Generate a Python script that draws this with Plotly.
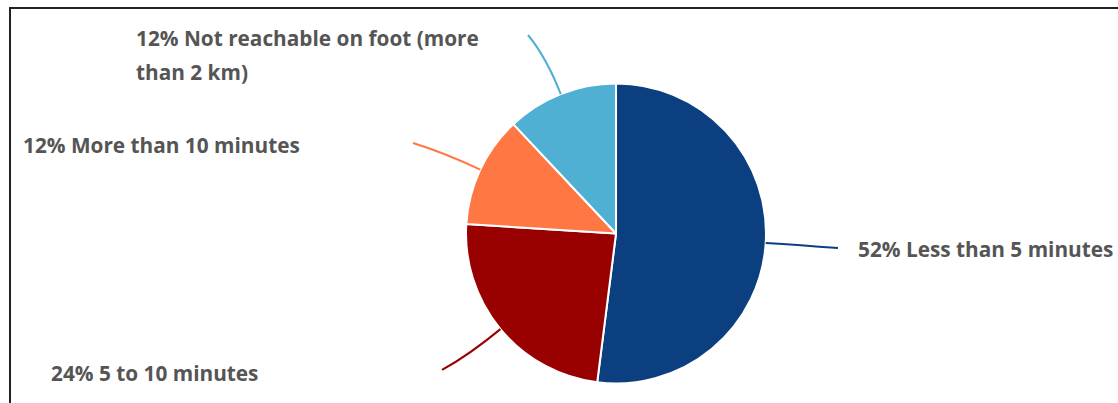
import math
import plotly.graph_objects as go

# Share of respondents by walking time to the nearest stop
categories = ["Less than 5 minutes", "5 to 10 minutes", "More than 10 minutes",
              "Not reachable on foot (more than 2 km)"]
shares = [52, 24, 12, 12]
colors = ["#0b3f80", "#990000", "#ff7844", "#4fb0d3"]

W, H = 1118, 403
CX, CY, R = 616, 233.5, 150  # pie centre and radius in pixels

def px(x):
    return x / W

def py(y):
    return 1 - y / H

fig = go.Figure(go.Pie(
    labels=categories,
    values=shares,
    sort=False,
    direction="clockwise",
    rotation=0,
    textinfo="none",
    hoverinfo="label+percent",
    marker=dict(colors=colors, line=dict(color="white", width=2)),
    domain=dict(x=[px(CX - R), px(CX + R)], y=[py(CY + R), py(CY - R)]),
    showlegend=False,
))

# label placement: (text lines, left x, first line y, connector end x, end y)
label_layout = [
    (["{}% {}".format(shares[0], categories[0])], 856, 249, 838, 248),
    (["{}% {}".format(shares[1], categories[1])], 49, 373, 442, 370),
    (["{}% {}".format(shares[2], categories[2])], 21, 145, 413, 143),
    (["{}% Not reachable on foot (more".format(shares[3]), "than 2 km)"], 134, 38, 528, 35),
]

font = dict(family="Open Sans", size=20.8, color="#555555", weight=700)
annotations = []
shapes = []
total = sum(shares)
cum = 0
for i, v in enumerate(shares):
    mid = (cum + v / 2) / total * 2 * math.pi
    cum += v
    dx, dy = math.sin(mid), -math.cos(mid)
    sx, sy = CX + R * dx, CY + R * dy
    lines, lx, ly, ex, ey = label_layout[i]
    k = 40 if i != 0 else 34
    cxp, cyp = sx + k * dx, sy + k * dy
    path = "M {:.5f},{:.5f} Q {:.5f},{:.5f} {:.5f},{:.5f}".format(
        px(sx), py(sy), px(cxp), py(cyp), px(ex), py(ey))
    shapes.append(dict(type="path", xref="paper", yref="paper", path=path,
                       line=dict(color=colors[i], width=2)))
    for j, t in enumerate(lines):
        annotations.append(dict(text=t, x=px(lx), y=py(ly + 34 * j), xref="paper",
                                yref="paper", xanchor="left", yanchor="middle",
                                showarrow=False, font=font))

# outer frame
shapes.append(dict(type="rect", xref="paper", yref="paper",
                   x0=px(10), y0=py(8), x1=px(W + 20), y1=py(H + 20),
                   line=dict(color="#222222", width=2), fillcolor="rgba(0,0,0,0)"))

fig.update_layout(
    width=W, height=H,
    margin=dict(l=0, r=0, t=0, b=0),
    paper_bgcolor="white",
    plot_bgcolor="white",
    annotations=annotations,
    shapes=shapes,
)

fig.write_html("out.html")
